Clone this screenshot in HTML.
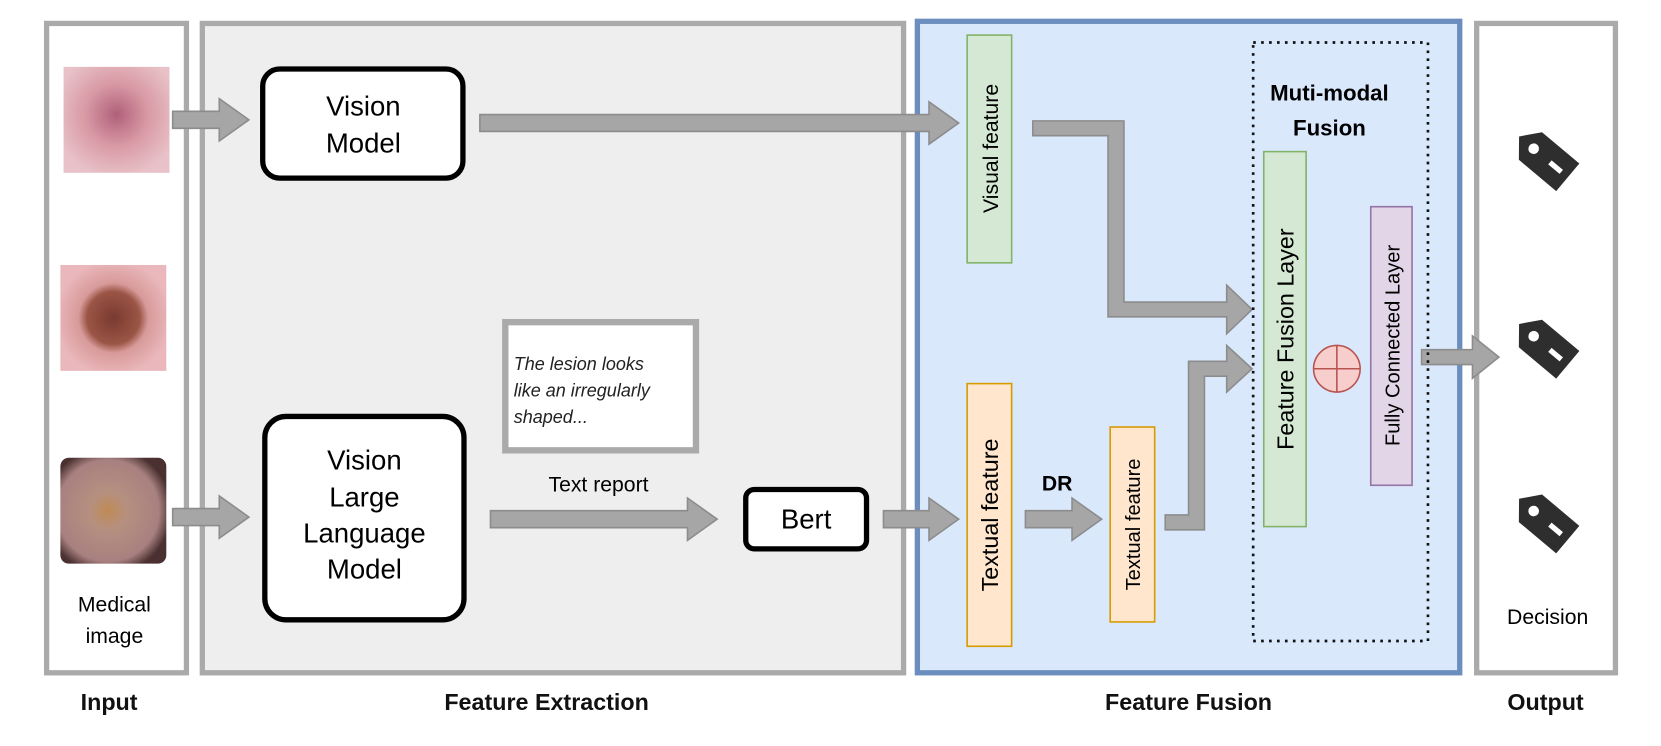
<!DOCTYPE html>
<html><head><meta charset="utf-8"><style>html,body{margin:0;padding:0;background:#fff}svg{display:block}</style></head>
<body>
<svg width="1661" height="746" viewBox="0 0 1568 704" xmlns="http://www.w3.org/2000/svg" font-family="Liberation Sans, Arial, sans-serif">
<defs>
<radialGradient id="g1" cx="0.5" cy="0.45" r="0.6"><stop offset="0" stop-color="#b0607a"/><stop offset="0.5" stop-color="#d99aa5"/><stop offset="1" stop-color="#e8c2c8"/></radialGradient>
<radialGradient id="g2" cx="0.5" cy="0.5" r="0.55"><stop offset="0" stop-color="#7a3a30"/><stop offset="0.45" stop-color="#9a5545"/><stop offset="0.6" stop-color="#d89a9a"/><stop offset="1" stop-color="#eab8bc"/></radialGradient>
<radialGradient id="g3" cx="0.45" cy="0.5" r="0.6"><stop offset="0" stop-color="#c08a55"/><stop offset="0.3" stop-color="#b59080"/><stop offset="0.8" stop-color="#a88080"/><stop offset="1" stop-color="#4a3030"/></radialGradient>
</defs>
<!-- panels -->
<rect x="44" y="22" width="132" height="613" fill="#fff" stroke="#aaa" stroke-width="5"/>
<rect x="191" y="22" width="662" height="613" fill="#eeeeee" stroke="#aaa" stroke-width="5"/>
<rect x="866" y="20" width="512" height="615" fill="#dae8fc" stroke="#6c8ebf" stroke-width="5"/>
<rect x="1394" y="22" width="131" height="613" fill="#fff" stroke="#aaa" stroke-width="5"/>
<g font-weight="bold" font-size="22" text-anchor="middle" fill="#111">
<text x="103" y="670">Input</text><text x="516" y="670">Feature Extraction</text><text x="1122" y="670">Feature Fusion</text><text x="1459" y="670">Output</text>
</g>
<!-- images -->
<rect x="60" y="63" width="100" height="100" fill="url(#g1)"/>
<rect x="57" y="250" width="100" height="100" fill="url(#g2)"/>
<rect x="57" y="432" width="100" height="100" rx="8" fill="url(#g3)"/>
<text x="108" y="577" font-size="20" text-anchor="middle">Medical</text>
<text x="108" y="607" font-size="20" text-anchor="middle">image</text>
<!-- boxes -->
<rect x="248" y="65" width="189" height="103" rx="16" fill="#fff" stroke="#000" stroke-width="5"/>
<text x="343" y="109" font-size="26" text-anchor="middle">Vision</text>
<text x="343" y="144" font-size="26" text-anchor="middle">Model</text>
<rect x="250" y="393" width="188" height="192" rx="20" fill="#fff" stroke="#000" stroke-width="5"/>
<g font-size="26" text-anchor="middle"><text x="344" y="443">Vision</text><text x="344" y="478">Large</text><text x="344" y="512">Language</text><text x="344" y="546">Model</text></g>
<rect x="477" y="304" width="180" height="121" fill="#fff" stroke="#aaa" stroke-width="6"/>
<g font-size="17" font-style="italic" fill="#222"><text x="485" y="349">The lesion looks</text><text x="485" y="374">like an irregularly</text><text x="485" y="399">shaped...</text></g>
<text x="565" y="464" font-size="20" text-anchor="middle">Text report</text>
<rect x="704" y="462" width="114" height="56" rx="8" fill="#fff" stroke="#000" stroke-width="5"/>
<text x="761" y="499" font-size="26" text-anchor="middle">Bert</text>
<!-- arrows -->
<g fill="#a6a6a6" stroke="#8c8c8c" stroke-width="1.5">
<polygon points="163,105 207,105 207,93 235,113 207,133 207,121 163,121"/>
<polygon points="453,108 877,108 877,96 905,116 877,136 877,124 453,124"/>
<polygon points="163,480 207,480 207,468 235,488 207,508 207,496 163,496"/>
<polygon points="463,482 649,482 649,470 677,490 649,510 649,498 463,498"/>
<polygon points="834,482 877,482 877,470 905,490 877,510 877,498 834,498"/>
<polygon points="968,482 1012,482 1012,470 1040,490 1012,510 1012,498 968,498"/>
<polygon points="975,114 1061,114 1061,285 1158,285 1158,269 1182,292 1158,315 1158,299 1046,299 1046,128 975,128"/>
<polygon points="1100,486 1122,486 1122,341 1158,341 1158,326 1182,348 1158,370 1158,355 1137,355 1137,500 1100,500"/>
<polygon points="1342,330 1390,330 1390,317 1415,337 1390,357 1390,344 1342,344"/>
</g>
<text x="998" y="463" font-size="20" font-weight="bold" text-anchor="middle">DR</text>
<!-- feature boxes -->
<rect x="913" y="33" width="42" height="215" fill="#d5e8d4" stroke="#82b366" stroke-width="1.5"/>
<text transform="translate(942,140) rotate(-90)" font-size="20" text-anchor="middle">Visual feature</text>
<rect x="913" y="362" width="42" height="248" fill="#ffe6cc" stroke="#d79b00" stroke-width="1.5"/>
<text transform="translate(942,486) rotate(-90)" font-size="22" text-anchor="middle">Textual feature</text>
<rect x="1048" y="403" width="42" height="184" fill="#ffe6cc" stroke="#d79b00" stroke-width="1.5"/>
<text transform="translate(1076,495) rotate(-90)" font-size="19" text-anchor="middle">Textual feature</text>
<!-- fusion -->
<rect x="1183" y="40" width="165" height="565" fill="none" stroke="#111" stroke-width="2.5" stroke-dasharray="2.5,5"/>
<text x="1255" y="95" font-size="21" font-weight="bold" text-anchor="middle">Muti-modal</text>
<text x="1255" y="128" font-size="21" font-weight="bold" text-anchor="middle">Fusion</text>
<rect x="1193" y="143" width="40" height="354" fill="#d5e8d4" stroke="#82b366" stroke-width="1.5"/>
<text transform="translate(1221,320) rotate(-90)" font-size="22" text-anchor="middle">Feature Fusion Layer</text>
<circle cx="1262" cy="348" r="22" fill="#f8cecc" stroke="#b85450" stroke-width="1.5"/>
<line x1="1240" y1="348" x2="1284" y2="348" stroke="#b85450" stroke-width="1.5"/>
<line x1="1262" y1="326" x2="1262" y2="370" stroke="#b85450" stroke-width="1.5"/>
<rect x="1294" y="195" width="39" height="263" fill="#e1d5e7" stroke="#9673a6" stroke-width="1.5"/>
<text transform="translate(1321,326) rotate(-90)" font-size="19" text-anchor="middle">Fully Connected Layer</text>
<!-- tags -->
<g fill="#2e2e2e">
<g transform="translate(1457,148) rotate(40)"><polygon points="-30,0 -16,-17 30,-17 30,17 -16,17"/><circle cx="-12" cy="0" r="5" fill="#fff"/><rect x="8" y="-2.5" width="14" height="5" fill="#fff"/></g>
<g transform="translate(1457,325) rotate(40)"><polygon points="-30,0 -16,-17 30,-17 30,17 -16,17"/><circle cx="-12" cy="0" r="5" fill="#fff"/><rect x="8" y="-2.5" width="14" height="5" fill="#fff"/></g>
<g transform="translate(1457,490) rotate(40)"><polygon points="-30,0 -16,-17 30,-17 30,17 -16,17"/><circle cx="-12" cy="0" r="5" fill="#fff"/><rect x="8" y="-2.5" width="14" height="5" fill="#fff"/></g>
</g>
<text x="1461" y="589" font-size="20" text-anchor="middle">Decision</text>
</svg>
</body></html>
